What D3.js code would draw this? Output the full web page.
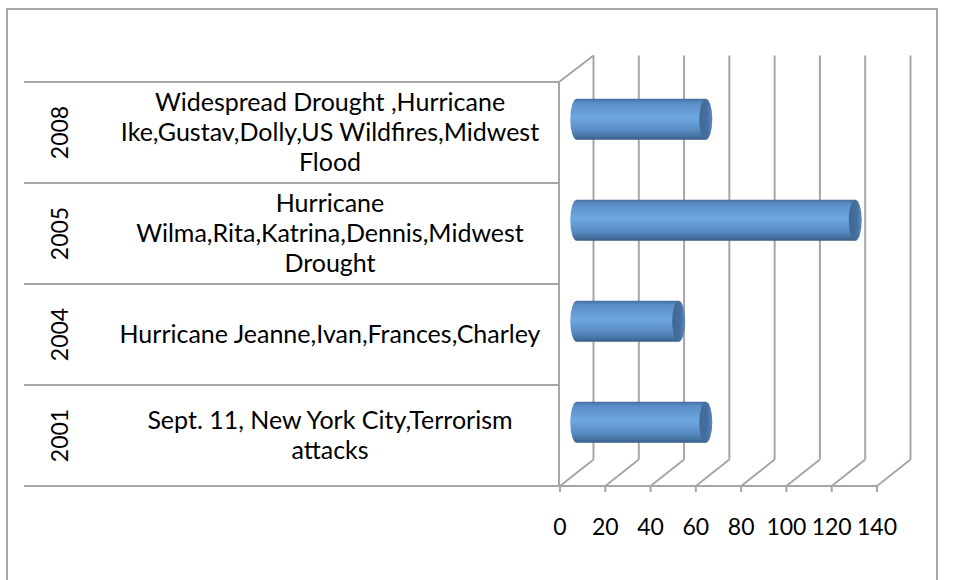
<!DOCTYPE html>
<html>
<head>
<meta charset="utf-8">
<script src="https://cdn.jsdelivr.net/npm/d3@7"></script>
<style>
  html, body { margin: 0; padding: 0; background: #fff; }
  svg { display: block; font-family: Lato, "Open Sans", sans-serif; }
</style>
</head>
<body>
<svg id="chart" width="955" height="580"></svg>
<script>
// Years, bottom to top
const years = ["2001", "2004", "2005", "2008"];
// Event description for each year (line breaks as wrapped in the label area)
const events = [
  "Sept. 11, New York City,Terrorism\nattacks",
  "Hurricane Jeanne,Ivan,Frances,Charley",
  "Hurricane\nWilma,Rita,Katrina,Dennis,Midwest\nDrought",
  "Widespread Drought ,Hurricane\nIke,Gustav,Dolly,US Wildfires,Midwest\nFlood"
];
// Bar values
const values = [57, 45, 123, 57];
// Value axis ticks
const tickValues = [0, 20, 40, 60, 80, 100, 120, 140];

const data = years.map((y, i) => ({ year: y, label: events[i], value: values[i] }));

const svg = d3.select("#chart");
const W = 955, H = 580;

// Plot geometry (front plane) and oblique depth offset
const plot = { left: 560, right: 877, top: 82, bottom: 486 };
const depth = { dx: 33.5, dy: -26.5 };
const gridColor = "#a6a6a6";

const x = d3.scaleLinear().domain([0, 140]).range([plot.left, plot.right]);
const y = d3.scaleBand().domain(years.slice().reverse()).range([plot.top, plot.bottom]).paddingInner(0).paddingOuter(0);

// Outer chart border
svg.append("path")
  .attr("d", `M7,${H} L7,9 L937,9 L937,${H}`)
  .attr("fill", "none").attr("stroke", gridColor).attr("stroke-width", 2);

const defs = svg.append("defs");
const bodyGrad = defs.append("linearGradient").attr("id", "barBody")
  .attr("x1", 0).attr("y1", 0).attr("x2", 0).attr("y2", 1);
[[0, "#46709f"], [0.1, "#5a8cc6"], [0.45, "#6ea7df"], [0.75, "#5a8dc6"], [0.93, "#44709f"], [1, "#385c84"]]
  .forEach(([o, c]) => bodyGrad.append("stop").attr("offset", o).attr("stop-color", c));
const capGrad = defs.append("linearGradient").attr("id", "barCap")
  .attr("x1", 0).attr("y1", 0).attr("x2", 1).attr("y2", 0);
[[0, "#3f6894"], [0.6, "#456f9f"], [1, "#5b8ac0"]]
  .forEach(([o, c]) => capGrad.append("stop").attr("offset", o).attr("stop-color", c));

const grid = svg.append("g").attr("stroke", gridColor).attr("stroke-width", 2).attr("fill", "none");

// Back wall vertical gridlines
grid.selectAll("line.back").data(tickValues).join("line")
  .attr("class", "back")
  .attr("x1", d => x(d) + depth.dx).attr("x2", d => x(d) + depth.dx)
  .attr("y1", plot.top + depth.dy).attr("y2", plot.bottom + depth.dy);

// Floor diagonals
grid.selectAll("line.floor").data(tickValues).join("line")
  .attr("class", "floor")
  .attr("x1", d => x(d)).attr("x2", d => x(d) + depth.dx)
  .attr("y1", plot.bottom).attr("y2", plot.bottom + depth.dy);

// Front value axis with tick marks
grid.append("line")
  .attr("x1", x(0) - 1).attr("x2", x(140)).attr("y1", plot.bottom).attr("y2", plot.bottom);
grid.selectAll("line.tick").data(tickValues).join("line")
  .attr("class", "tick")
  .attr("x1", d => x(d)).attr("x2", d => x(d))
  .attr("y1", plot.bottom).attr("y2", plot.bottom + 6);

// Left wall: front edge and top diagonal
grid.append("line")
  .attr("x1", x(0) - 1).attr("x2", x(0) - 1).attr("y1", plot.top).attr("y2", plot.bottom);
grid.append("line")
  .attr("x1", x(0) - 1).attr("x2", x(0) + depth.dx).attr("y1", plot.top).attr("y2", plot.top + depth.dy);

// Category table rows
const bounds = years.map(d => y(d)).concat([plot.bottom]);
grid.selectAll("line.row").data(bounds).join("line")
  .attr("class", "row")
  .attr("x1", 24).attr("x2", x(0) - 1)
  .attr("y1", d => d).attr("y2", d => d);

// Value tick labels
svg.append("g").selectAll("text").data(tickValues).join("text")
  .attr("x", d => x(d)).attr("y", 535)
  .attr("text-anchor", "middle").attr("font-size", 23).attr("fill", "#000")
  .text(d => d);

// Year labels (rotated)
svg.append("g").selectAll("text").data(data).join("text")
  .attr("transform", d => `translate(${68},${y(d.year) + y.bandwidth() / 2}) rotate(-90)`)
  .attr("text-anchor", "middle").attr("font-size", 23).attr("fill", "#000")
  .text(d => d.year);

// Event descriptions, centered in each row
const lineH = 30;
svg.append("g").selectAll("text").data(data).join("text")
  .attr("text-anchor", "middle").attr("font-size", 25).attr("fill", "#000")
  .each(function (d) {
    const lines = d.label.split("\n");
    const cy = y(d.year) + y.bandwidth() / 2;
    const t = d3.select(this);
    lines.forEach((ln, i) => {
      t.append("tspan")
        .attr("x", 330)
        .attr("y", cy + (i - (lines.length - 1) / 2) * lineH + 8.5)
        .text(ln);
    });
  });

// Cylinder bars, placed at mid depth
const barH = 41, capRx = 6.5;
const bars = svg.append("g").selectAll("g").data(data).join("g");
bars.each(function (d) {
  const g = d3.select(this);
  const cy = y(d.year) + y.bandwidth() / 2 + depth.dy / 2;
  const x0 = x(0) + depth.dx / 2;
  const x1 = x(d.value) + depth.dx / 2;
  const top = cy - barH / 2, bot = cy + barH / 2, ry = barH / 2;
  g.append("path")
    .attr("d", `M${x0},${top} L${x1},${top} L${x1},${bot} L${x0},${bot} A${capRx},${ry} 0 0 1 ${x0},${top} Z`)
    .attr("fill", "url(#barBody)");
  g.append("ellipse")
    .attr("cx", x1).attr("cy", cy).attr("rx", capRx).attr("ry", ry)
    .attr("fill", "url(#barCap)");
});
</script>
</body>
</html>
